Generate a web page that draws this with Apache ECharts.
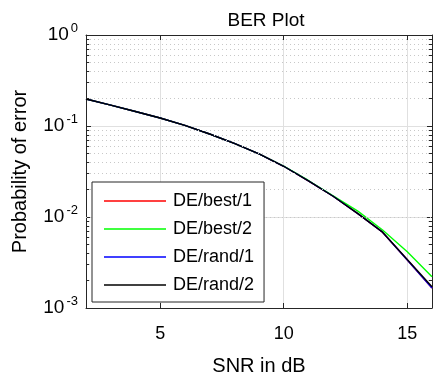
<!DOCTYPE html>
<html>
<head>
<meta charset="utf-8">
<script src="https://cdn.jsdelivr.net/npm/echarts@6/dist/echarts.min.js"></script>
<style>
    html, body { margin: 0; padding: 0; background: #fff; }
    #main { width: 438px; height: 381px; }
</style>
</head>
<body>
<div id="main"></div>
<script>
"use strict"

// 数据
let snrArr = [2, 3, 4, 5, 6, 7, 8, 9, 10, 11, 12, 13, 14, 15, 16];
let best1Arr = [0.198, 0.1698, 0.1445, 0.1225, 0.1014, 0.0817, 0.0643, 0.0493, 0.0361, 0.025, 0.0169, 0.0109, 0.00681, 0.00337, 0.00166];
let best2Arr = [0.198, 0.1698, 0.1445, 0.1225, 0.1014, 0.0817, 0.0643, 0.0493, 0.0362, 0.0252, 0.0171, 0.0116, 0.00719, 0.00416, 0.00221];
let rand1Arr = [0.198, 0.1698, 0.1445, 0.1225, 0.1014, 0.0817, 0.0643, 0.0493, 0.0361, 0.025, 0.0169, 0.0109, 0.00681, 0.00337, 0.00166];
let rand2Arr = [0.198, 0.1698, 0.1445, 0.1225, 0.1014, 0.0817, 0.0643, 0.0493, 0.0361, 0.025, 0.0169, 0.0109, 0.00681, 0.00341, 0.00171];
let xTicks = [5, 10, 15];
let decades = [0.001, 0.01, 0.1];
let minorMul = [2, 3, 4, 5, 6, 7, 8, 9];

let names = ["DE/best/1", "DE/best/2", "DE/rand/1", "DE/rand/2"];
let colors = ["#ff0000", "#00ff00", "#0000ff", "#000000"];
let dataArr = [best1Arr, best2Arr, rand1Arr, rand2Arr];

let axisColor = "#262626";
let font = "Liberation Sans, Arial, Helvetica, sans-serif";

// 次网格线 + 次刻度
let minorVals = [];
decades.forEach(d => minorMul.forEach(m => minorVals.push(+(d * m).toPrecision(3))));

let markData = [];
minorVals.forEach(v => {
    markData.push({
        yAxis: v,
        lineStyle: { color: "#c8c8c8", width: 1, type: [1, 3] }
    });
    markData.push([
        { coord: [2, v], lineStyle: { color: axisColor, width: 1, type: "solid" } },
        { coord: [2.13, v] }
    ]);
    markData.push([
        { coord: [15.87, v], lineStyle: { color: axisColor, width: 1, type: "solid" } },
        { coord: [16, v] }
    ]);
});

let series = names.map((name, i) => {
    let s = {
        name: name,
        type: "line",
        data: snrArr.map((x, j) => [x, dataArr[i][j]]),
        symbol: "none",
        color: colors[i],
        lineStyle: { width: 1.4, color: colors[i] },
        animation: false
    };
    if (i === 0) {
        s.markLine = {
            silent: true,
            symbol: "none",
            label: { show: false },
            animation: false,
            data: markData
        };
    }
    return s;
});

let myChart = echarts.init(document.getElementById("main"));
let option = {
    backgroundColor: "#fff",
    animation: false,
    title: {
        text: "BER Plot",
        left: 261,
        textAlign: "center",
        top: 6,
        textStyle: { color: "#000", fontSize: 19, fontWeight: "normal", fontFamily: font }
    },
    grid: { left: 86, right: 6, top: 35, bottom: 73 },
    legend: {
        data: names,
        icon: "rect",
        orient: "vertical",
        left: 92,
        top: 182,
        padding: [10, 10, 8, 12],
        itemWidth: 62,
        itemHeight: 1.5,
        itemGap: 10,
        backgroundColor: "#fff",
        borderColor: axisColor,
        borderWidth: 1,
        borderRadius: 0,
        z: 10,
        textStyle: { color: "#000", fontSize: 18, fontFamily: font, padding: [0, 0, 0, 2], lineHeight: 18 }
    },
    xAxis: [{
        type: "value",
        min: 2,
        max: 16,
        name: "SNR in dB",
        nameLocation: "middle",
        nameGap: 48,
        nameTextStyle: { color: "#000", fontSize: 20, fontFamily: font },
        axisLine: { lineStyle: { color: axisColor, width: 1 } },
        axisTick: { inside: true, length: 5, customValues: xTicks, lineStyle: { color: axisColor } },
        axisLabel: { customValues: xTicks, margin: 17, color: "#000", fontSize: 18, fontFamily: font },
        splitLine: { show: true, lineStyle: { color: "#e0e0e0", width: 1 } }
    }, {
        type: "value",
        position: "top",
        min: 2,
        max: 16,
        axisLine: { lineStyle: { color: axisColor, width: 1 } },
        axisTick: { inside: true, length: 5, customValues: xTicks, lineStyle: { color: axisColor } },
        axisLabel: { show: false },
        splitLine: { show: false }
    }],
    yAxis: [{
        type: "log",
        logBase: 10,
        min: 0.001,
        max: 1,
        interval: 1,
        name: "Probability of error",
        nameLocation: "middle",
        nameGap: 56,
        nameTextStyle: { color: "#000", fontSize: 20, fontFamily: font },
        axisLine: { show: true, lineStyle: { color: axisColor, width: 1 } },
        axisTick: { inside: true, length: 5, lineStyle: { color: axisColor } },
        axisLabel: {
            margin: 8,
            formatter: function (v) {
                let e = Math.round(Math.log10(v));
                return "{b|10}{s|" + e + "}";
            },
            rich: {
                b: { fontSize: 19, color: "#000", fontFamily: font },
                s: { fontSize: 13, color: "#000", fontFamily: font, padding: [0, 0, 14, 2] }
            }
        },
        splitLine: { show: true, lineStyle: { color: "#e0e0e0", width: 1 } }
    }, {
        type: "log",
        logBase: 10,
        min: 0.001,
        max: 1,
        interval: 1,
        position: "right",
        axisLine: { show: true, lineStyle: { color: axisColor, width: 1 } },
        axisTick: { inside: true, length: 5, lineStyle: { color: axisColor } },
        axisLabel: { show: false },
        splitLine: { show: false }
    }],
    series: series
};
myChart.setOption(option);
</script>
</body>
</html>
